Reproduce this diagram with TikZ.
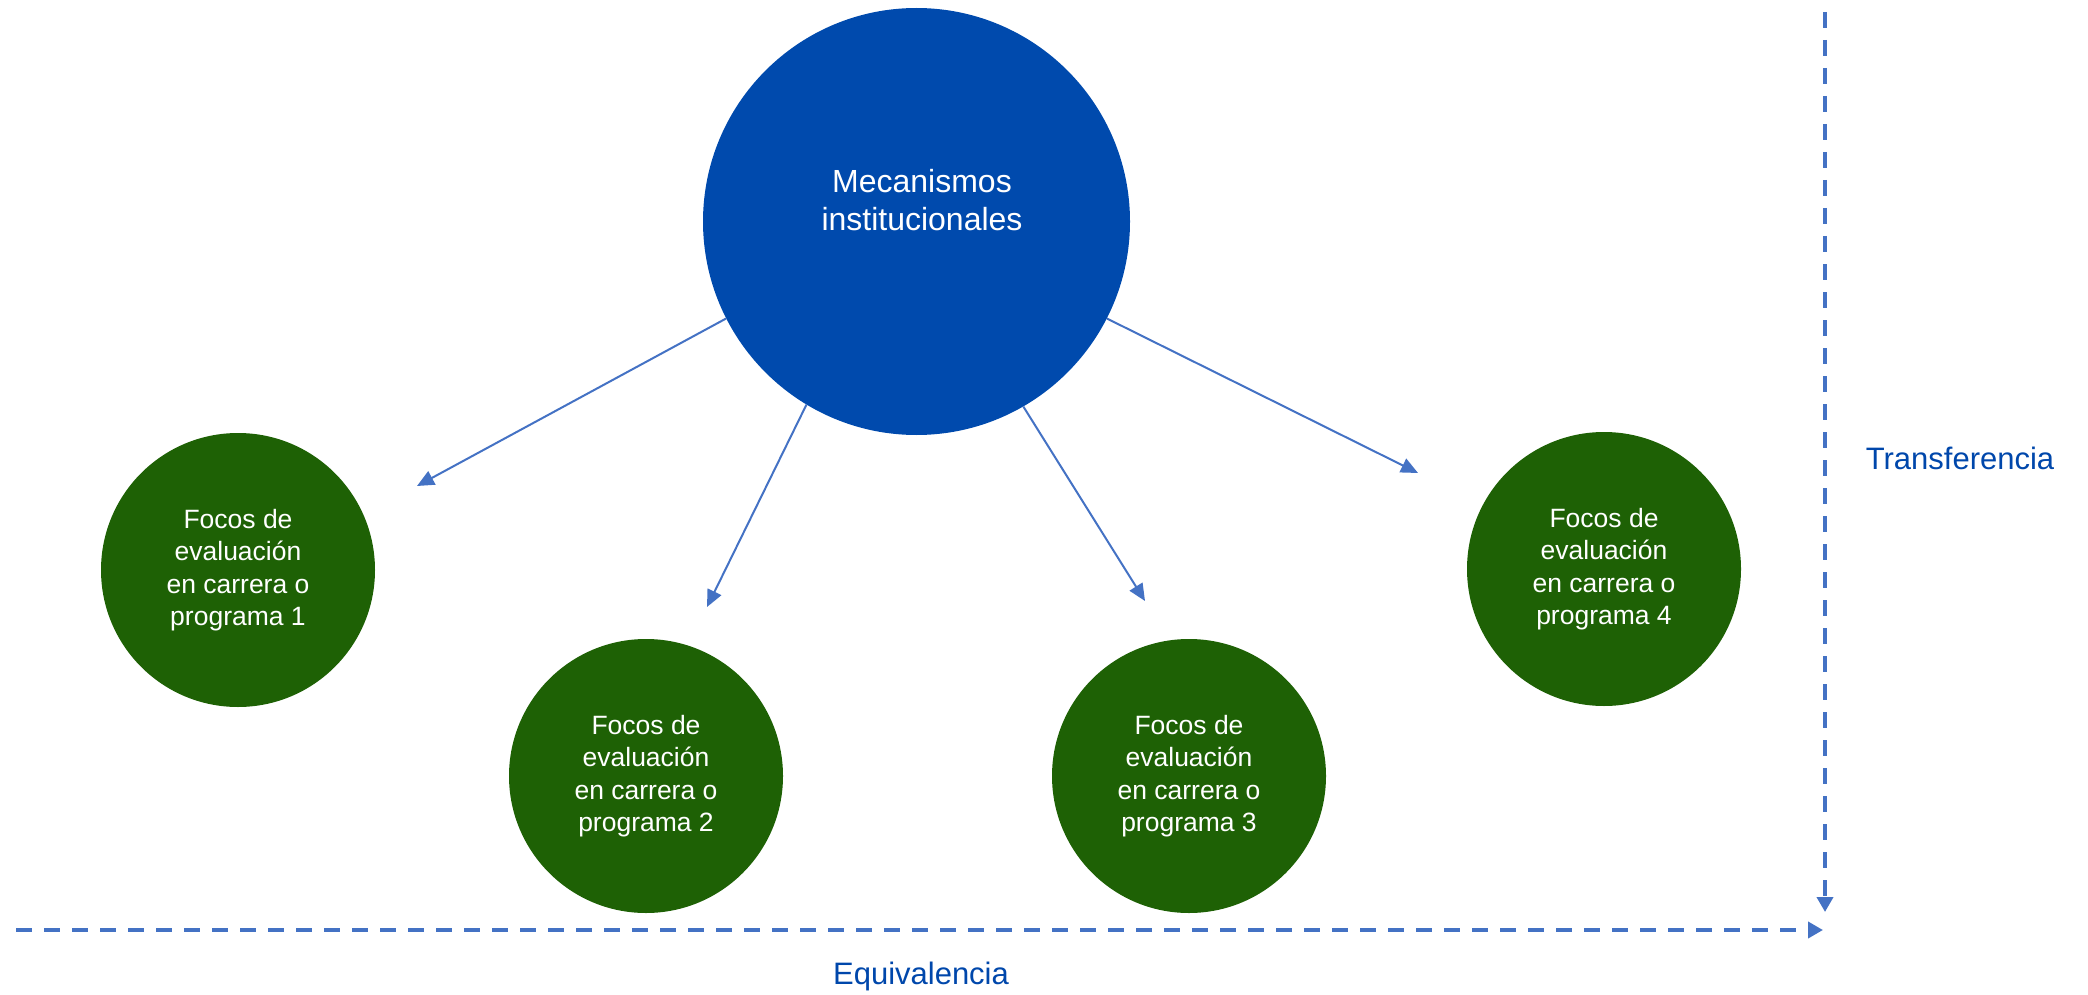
\documentclass[tikz,border=0pt]{standalone}
\usepackage{fontspec}
\setmainfont{Liberation Sans}
\usetikzlibrary{arrows.meta}
\definecolor{bigblue}{RGB}{0,74,173}
\definecolor{darkgreen}{RGB}{30,97,5}
\definecolor{arrowblue}{RGB}{68,114,196}
\definecolor{labelblue}{RGB}{0,71,171}
\tikzset{
  bigc/.style={circle, fill=bigblue, draw=none, minimum size=427pt, inner sep=0pt},
  bigtext/.style={text=white, align=center, font=\fontsize{32}{38}\selectfont},
  greenc/.style={circle, fill=darkgreen, draw=none, minimum size=274pt, inner sep=0pt,
    text=white, align=center, font=\fontsize{26.5}{32.3}\selectfont},
  conn/.style={arrowblue, line width=2pt, -{Triangle[length=17pt,width=15pt]}},
  axis/.style={arrowblue, line width=4pt, dash pattern=on 16pt off 12pt,
    -{Triangle[length=15pt,width=16pt]}},
  axlabel/.style={text=labelblue, font=\fontsize{31}{37}\selectfont, anchor=base, inner sep=0pt}
}
\begin{document}
\begin{tikzpicture}[x=1pt,y=-1pt]
\useasboundingbox (0,0) rectangle (2088,995);
\node[bigc] (mech) at (916.5,221.5) {};
\node[bigtext] (mechtext) at (922,200) {Mecanismos\\institucionales};
\node[greenc] (p1) at (238,570) {Focos de\\evaluación\\en carrera o\\programa 1};
\node[greenc] (p2) at (646,776) {Focos de\\evaluación\\en carrera o\\programa 2};
\node[greenc] (p3) at (1189,776) {Focos de\\evaluación\\en carrera o\\programa 3};
\node[greenc] (p4) at (1604,569) {Focos de\\evaluación\\en carrera o\\programa 4};
\coordinate (t1) at (417,486);
\coordinate (t2) at (707,607);
\coordinate (t3) at (1145,601);
\coordinate (t4) at (1418,473);
\draw[conn] (mech.207) -- (t1);
\draw[conn] (mech.239.6) -- (t2);
\draw[conn] (mech.300.3) -- (t3);
\draw[conn] (mech.333.6) -- (t4);
\coordinate (vtop) at (1825,12);
\coordinate (vbot) at (1825,912);
\coordinate (hleft) at (16,930);
\coordinate (hright) at (1823,930);
\draw[axis] (vtop) -- (vbot);
\draw[axis] (hleft) -- (hright);
\node[axlabel] (transf) at (1960,469) {Transferencia};
\node[axlabel] (equiv) at (921,984) {Equivalencia};
\end{tikzpicture}
\end{document}
